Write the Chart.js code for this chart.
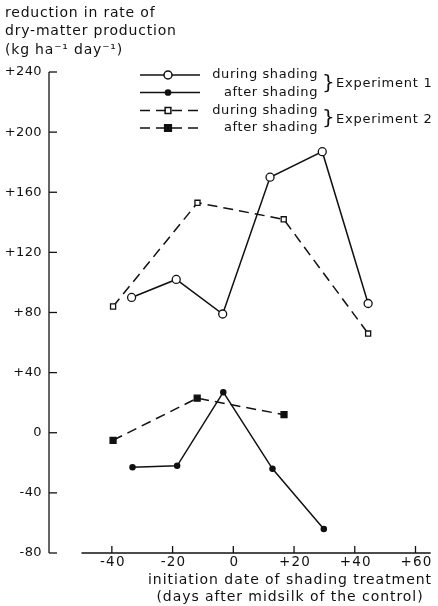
<!DOCTYPE html>
<html>
<head>
<meta charset="utf-8">
<script src="https://cdn.jsdelivr.net/npm/chart.js@4/dist/chart.umd.min.js"></script>
<style>
  html, body { margin: 0; padding: 0; background: #fff; }
  #wrap { width: 438px; height: 606px; }
</style>
</head>
<body>
<div id="wrap"><canvas id="shadeChart" width="438" height="606"></canvas></div>
<script>
// values
const expOneDays = [-33.5, -18.8, -3.5, 12.1, 29.3, 44.4];
const expOneDuring = [90, 102, 79, 170, 187, 86];
const expOneAfterDays = [-33.2, -18.5, -3.3, 12.9, 29.8];
const expOneAfter = [-23, -22, 27, -24, -64];
const expTwoDays = [-39.6, -11.8, 16.6, 44.4];
const expTwoDuring = [84, 153, 142, 66];
const expTwoAfterDays = [-39.6, -11.9, 16.7];
const expTwoAfter = [-5, 23, 12];

const yTicks = [240, 200, 160, 120, 80, 40, 0, -40, -80];
const yTickLabels = ['+240', '+200', '+160', '+120', '+80', '+40', '0', '-40', '-80'];
const xTicks = [-40, -20, 0, 20, 40, 60];
const xTickLabels = ['-40', '-20', '0', '+20', '+40', '+60'];

const legendNames = ['during shading', 'after shading', 'during shading', 'after shading'];
const groupNames = ['Experiment 1', 'Experiment 2'];
const titleLines = ['reduction in rate of', 'dry-matter production', '(kg ha\u207B\u00B9 day\u207B\u00B9)'];
const xTitleLines = ['initiation date of shading treatment', '(days after midsilk of the control)'];

const ink = '#111';
const font = '"DejaVu Sans", sans-serif';

function pairs(xs, ys) {
    return xs.map(function(x, i) { return { x: x, y: ys[i] }; });
}

function setText(ctx, size, spacing) {
    ctx.font = size + 'px ' + font;
    ctx.letterSpacing = spacing + 'px';
}

const seriesStyles = [
    { data: pairs(expOneDays, expOneDuring), borderDash: [], pointStyle: 'circle', pointRadius: 4, pointBackgroundColor: '#fff' },
    { data: pairs(expOneAfterDays, expOneAfter), borderDash: [], pointStyle: 'circle', pointRadius: 2.6, pointBackgroundColor: ink },
    { data: pairs(expTwoDays, expTwoDuring), borderDash: [10, 6], pointStyle: 'rect', pointRadius: 3.6, pointBackgroundColor: '#fff' },
    { data: pairs(expTwoAfterDays, expTwoAfter), borderDash: [10, 6], pointStyle: 'rect', pointRadius: 4.2, pointBackgroundColor: ink }
];

// axes, titles and the legend drawn by hand, positions taken from the scales
const figureDecor = {
    id: 'figureDecor',
    beforeDatasetsDraw: function(chart) {
        const ctx = chart.ctx;
        const xs = chart.scales.x;
        const ys = chart.scales.y;
        const area = chart.chartArea;
        ctx.save();
        ctx.strokeStyle = ink;
        ctx.fillStyle = ink;
        ctx.lineWidth = 1.3;

        // y axis
        ctx.beginPath();
        ctx.moveTo(area.left, ys.getPixelForValue(240));
        ctx.lineTo(area.left, ys.getPixelForValue(-80));
        ctx.stroke();
        setText(ctx, 13, 0.4);
        ctx.textAlign = 'right';
        ctx.textBaseline = 'middle';
        yTicks.forEach(function(v, i) {
            const py = ys.getPixelForValue(v);
            ctx.beginPath();
            ctx.moveTo(area.left, py);
            ctx.lineTo(area.left + 8, py);
            ctx.stroke();
            ctx.fillText(yTickLabels[i], area.left - 7, py);
        });

        // x axis
        const axisY = ys.getPixelForValue(-80);
        ctx.beginPath();
        ctx.moveTo(xs.getPixelForValue(-50), axisY);
        ctx.lineTo(xs.getPixelForValue(65), axisY);
        ctx.stroke();
        setText(ctx, 13.5, 1.2);
        ctx.textAlign = 'center';
        ctx.textBaseline = 'top';
        xTicks.forEach(function(v, i) {
            const px = xs.getPixelForValue(v);
            ctx.beginPath();
            ctx.moveTo(px, axisY);
            ctx.lineTo(px, axisY - 7);
            ctx.stroke();
            ctx.fillText(xTickLabels[i], px + 1, axisY + 3);
        });

        // titles
        setText(ctx, 14, 0.8);
        ctx.textAlign = 'left';
        ctx.textBaseline = 'middle';
        titleLines.forEach(function(t, i) {
            ctx.fillText(t, 5, 13 + i * 18.5);
        });
        setText(ctx, 14, 0.95);
        ctx.textAlign = 'center';
        xTitleLines.forEach(function(t, i) {
            ctx.fillText(t, 290, 580 + i * 17);
        });

        // legend
        const rowY = [75, 92.5, 110.5, 128];
        setText(ctx, 13, 0.6);
        ctx.textAlign = 'right';
        seriesStyles.forEach(function(s, i) {
            const y = rowY[i];
            ctx.setLineDash(s.borderDash);
            ctx.lineWidth = 1.5;
            ctx.beginPath();
            ctx.moveTo(140, y);
            ctx.lineTo(200, y);
            ctx.stroke();
            ctx.setLineDash([]);
            const r = s.pointRadius;
            ctx.fillStyle = s.pointBackgroundColor;
            ctx.beginPath();
            if (s.pointStyle === 'circle') {
                ctx.arc(168, y, r, 0, Math.PI * 2);
            } else {
                ctx.rect(168 - r * 0.8, y - r * 0.8, r * 1.6, r * 1.6);
            }
            ctx.fill();
            ctx.stroke();
            ctx.fillStyle = ink;
            ctx.fillText(legendNames[i], 318, y);
        });
        groupNames.forEach(function(g, i) {
            const y = (rowY[i * 2] + rowY[i * 2 + 1]) / 2;
            ctx.textAlign = 'left';
            setText(ctx, 20, 0);
            ctx.fillText('}', 322, y);
            setText(ctx, 13, 0.75);
            ctx.fillText(g, 336, y);
        });
        ctx.restore();
    }
};

const datasets = seriesStyles.map(function(s) {
    return {
        data: s.data,
        showLine: true,
        borderColor: ink,
        borderWidth: 1.5,
        borderDash: s.borderDash,
        pointStyle: s.pointStyle,
        pointRadius: s.pointRadius,
        pointBorderWidth: 1.3,
        pointBorderColor: ink,
        pointBackgroundColor: s.pointBackgroundColor,
        tension: 0,
        clip: false
    };
});

new Chart(document.getElementById('shadeChart'), {
    type: 'scatter',
    data: { datasets: datasets },
    plugins: [figureDecor],
    options: {
        responsive: false,
        animation: false,
        layout: { padding: { left: 49, right: 4, top: 72, bottom: 53 } },
        plugins: { legend: { display: false }, tooltip: { enabled: false } },
        scales: {
            x: { type: 'linear', min: -60.7, max: 65.6, display: false },
            y: { type: 'linear', min: -80, max: 240, display: false }
        }
    }
});
</script>
</body>
</html>
